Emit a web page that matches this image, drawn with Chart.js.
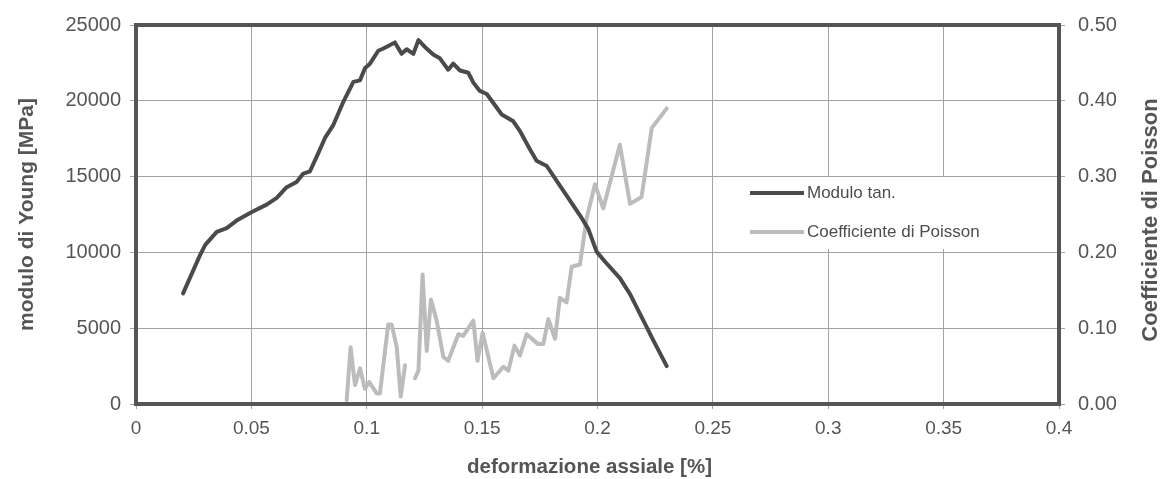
<!DOCTYPE html>
<html>
<head>
<meta charset="utf-8">
<script src="https://cdn.jsdelivr.net/npm/chart.js@4.4.1/dist/chart.umd.min.js"></script>
<style>
  html, body { margin: 0; padding: 0; background: #ffffff; }
  #wrap { width: 1165px; height: 479px; }
</style>
</head>
<body>
<div id="wrap"><canvas id="c" width="1165" height="479"></canvas></div>
<script>
// Tangent Young's modulus vs axial strain
const strainModulo = [
  0.0204, 0.0277, 0.0300, 0.0350, 0.0393, 0.0436, 0.0500, 0.0566, 0.0610, 0.0653,
  0.0696, 0.0725, 0.0754, 0.0790, 0.0819, 0.0855, 0.0899, 0.0942, 0.0971, 0.0992,
  0.1014, 0.1050, 0.1072, 0.1122, 0.1151, 0.1173, 0.1202, 0.1224, 0.1252, 0.1288,
  0.1317, 0.1353, 0.1375, 0.1404, 0.1440, 0.1462, 0.1490, 0.1520, 0.1585, 0.1635,
  0.1664, 0.1707, 0.1736, 0.1780, 0.1837, 0.1924, 0.1960, 0.1996, 0.2032, 0.2097,
  0.2141, 0.2199, 0.2242, 0.2300
];
const moduloTan = [
  7300, 9800, 10500, 11350, 11600, 12100, 12650, 13150, 13600, 14300,
  14650, 15200, 15350, 16550, 17550, 18400, 19950, 21250, 21350, 22150,
  22450, 23300, 23450, 23850, 23100, 23400, 23100, 24000, 23550, 23050,
  22800, 22050, 22450, 22000, 21850, 21200, 20650, 20450, 19100, 18650,
  18000, 16800, 16050, 15700, 14400, 12450, 11550, 10050, 9400, 8300,
  7250, 5500, 4200, 2500
];

// Poisson's ratio vs axial strain (null = missing reading)
const strainPoisson = [
  0.0913, 0.0930, 0.0949, 0.0971, 0.0992, 0.1011, 0.1043, 0.1057, 0.1093, 0.1108,
  0.1130, 0.1147, 0.1166, 0.1188, 0.1209, 0.1224, 0.1242, 0.1260, 0.1278, 0.1303,
  0.1332, 0.1353, 0.1397, 0.1418, 0.1462, 0.1480, 0.1502, 0.1549, 0.1592, 0.1614,
  0.1640, 0.1664, 0.1693, 0.1743, 0.1765, 0.1787, 0.1816, 0.1837, 0.1866, 0.1888,
  0.1924, 0.1953, 0.1989, 0.2025, 0.2097, 0.2141, 0.2191, 0.2235, 0.2300
];
const poissonCoef = [
  0.005, 0.075, 0.025, 0.047, 0.020, 0.029, 0.014, 0.014, 0.105, 0.105,
  0.075, 0.010, 0.051, null, 0.034, 0.044, 0.171, 0.070, 0.138, 0.110,
  0.062, 0.057, 0.092, 0.090, 0.110, 0.057, 0.094, 0.034, 0.049, 0.044,
  0.077, 0.064, 0.092, 0.079, 0.079, 0.112, 0.086, 0.140, 0.134, 0.181,
  0.184, 0.245, 0.290, 0.258, 0.342, 0.264, 0.273, 0.364, 0.390
];

const xTickLabels  = ['0', '0.05', '0.1', '0.15', '0.2', '0.25', '0.3', '0.35', '0.4'];
const yTickLabels  = ['0', '5000', '10000', '15000', '20000', '25000'];
const y1TickLabels = ['0.00', '0.10', '0.20', '0.30', '0.40', '0.50'];

const seriesNames = ['Modulo tan.', 'Coefficiente di Poisson'];
const axisTitles = {
  x: 'deformazione assiale [%]',
  y: 'modulo di Young [MPa]',
  y1: 'Coefficiente di Poisson'
};

const FONT = "'Liberation Sans', Arial, Helvetica, sans-serif";
const TEXT = '#555555';
const GRID = '#a3a3a3';
const COLORS = ['#4a4a4a', '#bcbcbc'];

// Frame around the plot, boxed legend inside the plot, x and right-hand axis titles
const decorations = {
  id: 'decorations',
  beforeDatasetsDraw(chart) {
    const ctx = chart.ctx;
    const box = { x: 716, y: 177, w: 286, h: 72 };
    ctx.save();
    ctx.fillStyle = '#ffffff';
    ctx.fillRect(box.x, box.y, box.w, box.h);
    ctx.restore();
  },
  afterDatasetsDraw(chart) {
    const { ctx, chartArea: a } = chart;
    ctx.save();
    ctx.strokeStyle = '#555555';
    ctx.lineWidth = 4;
    ctx.strokeRect(a.left, a.top, a.right - a.left, a.bottom - a.top);
    ctx.restore();
  },
  afterDraw(chart) {
    const ctx = chart.ctx;
    ctx.save();
    // legend entries
    const rows = [193, 232];
    chart.data.datasets.forEach((ds, i) => {
      ctx.strokeStyle = ds.borderColor;
      ctx.lineWidth = 4;
      ctx.lineCap = 'butt';
      ctx.beginPath();
      ctx.moveTo(750, rows[i]);
      ctx.lineTo(804, rows[i]);
      ctx.stroke();
      ctx.fillStyle = '#4d4d4d';
      ctx.font = '17px ' + FONT;
      ctx.textBaseline = 'middle';
      ctx.textAlign = 'left';
      ctx.fillText(ds.label, 807, rows[i]);
    });
    // x axis title
    ctx.font = 'bold 20.5px ' + FONT;
    ctx.fillStyle = TEXT;
    ctx.textAlign = 'center';
    ctx.textBaseline = 'middle';
    ctx.fillText(axisTitles.x, 589.5, 467);
    // right axis title, reading bottom to top
    ctx.translate(1151, 220);
    ctx.rotate(-Math.PI / 2);
    ctx.font = 'bold 22px ' + FONT;
    ctx.fillText(axisTitles.y1, 0, 0);
    ctx.restore();
  }
};

new Chart(document.getElementById('c'), {
  type: 'line',
  data: {
    datasets: [
      {
        label: seriesNames[0],
        data: strainModulo.map((x, i) => ({ x: x, y: moduloTan[i] })),
        yAxisID: 'y',
        borderColor: COLORS[0],
        borderWidth: 4,
        pointRadius: 0,
        tension: 0,
        borderJoinStyle: 'round',
        borderCapStyle: 'round'
      },
      {
        label: seriesNames[1],
        data: strainPoisson.map((x, i) => ({ x: x, y: poissonCoef[i] })),
        yAxisID: 'y1',
        borderColor: COLORS[1],
        borderWidth: 4,
        pointRadius: 0,
        tension: 0,
        spanGaps: false,
        borderJoinStyle: 'round',
        borderCapStyle: 'round'
      }
    ]
  },
  options: {
    responsive: false,
    animation: false,
    devicePixelRatio: 1,
    layout: { padding: 0 },
    plugins: { legend: { display: false }, tooltip: { enabled: false } },
    scales: {
      x: {
        type: 'linear',
        min: 0, max: 0.4,
        ticks: {
          stepSize: 0.05,
          autoSkip: false,
          maxRotation: 0,
          padding: 8,
          color: TEXT,
          font: { family: FONT, size: 19 },
          callback: (v, i) => xTickLabels[i]
        },
        grid: { color: GRID, lineWidth: 1, tickLength: 5 },
        border: { display: false },
        title: { display: false },
        afterFit: s => { s.height = 75; }
      },
      y: {
        position: 'left',
        min: 0, max: 25000,
        ticks: {
          stepSize: 5000,
          padding: 9,
          color: TEXT,
          font: { family: FONT, size: 20 },
          callback: (v, i) => yTickLabels[i]
        },
        grid: { color: GRID, lineWidth: 1, tickLength: 6 },
        border: { display: false },
        title: {
          display: true,
          text: axisTitles.y,
          color: TEXT,
          font: { family: FONT, size: 21, weight: 'bold' },
          padding: { top: 15, bottom: 0 }
        },
        afterFit: s => { s.width = 136; }
      },
      y1: {
        position: 'right',
        min: 0, max: 0.5,
        ticks: {
          stepSize: 0.1,
          padding: 13,
          color: TEXT,
          font: { family: FONT, size: 20 },
          callback: (v, i) => y1TickLabels[i]
        },
        grid: { drawOnChartArea: false, color: GRID, lineWidth: 1, tickLength: 6 },
        border: { display: false },
        afterFit: s => { s.width = 106; }
      }
    }
  },
  plugins: [decorations]
});
</script>
</body>
</html>
